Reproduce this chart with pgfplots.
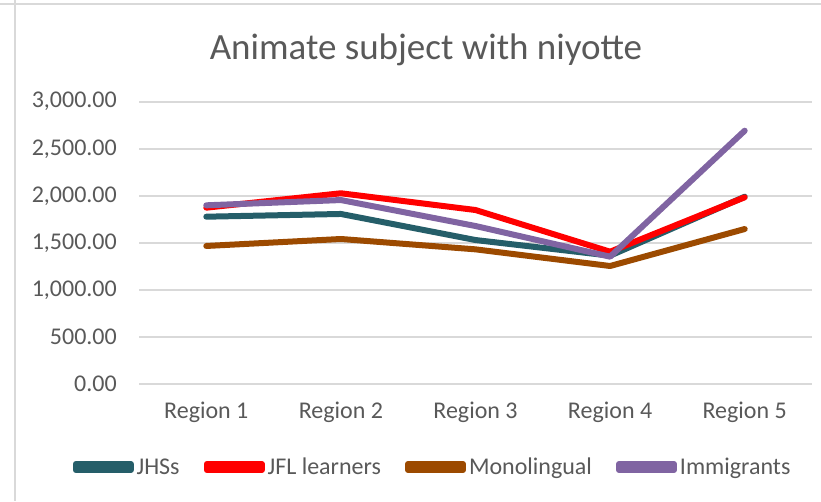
\documentclass[border=0pt]{standalone}
\usepackage{fontspec}
\setmainfont{Carlito}
\usepackage{pgfplots}
\pgfplotsset{compat=1.18}
\definecolor{jhs}{HTML}{255E69}
\definecolor{jfl}{HTML}{FF0000}
\definecolor{mono}{HTML}{9C4A00}
\definecolor{immi}{HTML}{8064A2}
\definecolor{gridgray}{HTML}{D9D9D9}
\definecolor{txt}{HTML}{595959}

\begin{document}
\begin{tikzpicture}[x=1pt,y=1pt]
\useasboundingbox (0,0) rectangle (821,-501);
% chart frame (cropped screenshot)
\draw[gridgray, line width=2pt] (15,0) -- (15,-501);
\draw[gridgray, line width=2pt] (0,-4) -- (821,-4);
\node[txt, font=\fontsize{37}{44}\selectfont, anchor=base, inner sep=0pt] at (426,-59)
  {Animate subject with niyotte};
\begin{axis}[
  at={(139pt,-384pt)}, anchor=south west,
  width=673pt, height=282.3pt, scale only axis,
  xmin=0.5, xmax=5.5, ymin=0, ymax=3000,
  xtick={1,2,3,4,5},
  xticklabels={Region 1,Region 2,Region 3,Region 4,Region 5},
  ytick={0,500,1000,1500,2000,2500,3000},
  ymajorgrids, grid style={gridgray, line width=2pt},
  axis line style={draw=none}, major tick length=0pt,
  tick label style={font=\fontsize{24}{29}\selectfont, text=txt},
  yticklabel style={anchor=east, inner sep=0pt, xshift=-22pt,
    /pgf/number format/.cd, fixed, fixed zerofill, precision=2,
    1000 sep={,}, assume math mode=true},
  xticklabel style={anchor=base, inner sep=0pt, yshift=-34pt},
  legend style={at={(0.4346,-0.294)}, anchor=center, draw=none, fill=none,
    legend columns=4, font=\fontsize{24}{29}\selectfont, text=txt,
    nodes={inner sep=0pt},
    /tikz/every odd column/.append style={column sep=3pt},
    /tikz/every even column/.append style={column sep=24pt}},
  legend image code/.code={
    \path (0pt,-3pt) rectangle (55pt,3pt);
    \draw[line width=6pt, line cap=round] (3pt,0pt) -- (52pt,0pt);},
  every axis plot/.append style={line width=6pt, line join=round, line cap=round},
  clip=false,
]
\addplot[jhs] coordinates {(1,1778) (2,1807) (3,1530) (4,1364) (5,1990)};
\addlegendentry{JHSs}
\addplot[jfl] coordinates {(1,1874) (2,2027) (3,1849) (4,1406) (5,1984)};
\addlegendentry{JFL learners}
\addplot[mono] coordinates {(1,1467) (2,1541) (3,1431) (4,1254) (5,1647)};
\addlegendentry{Monolingual}
\addplot[immi] coordinates {(1,1899) (2,1955) (3,1679) (4,1353) (5,2692)};
\addlegendentry{Immigrants}
\end{axis}
\end{tikzpicture}
\end{document}
